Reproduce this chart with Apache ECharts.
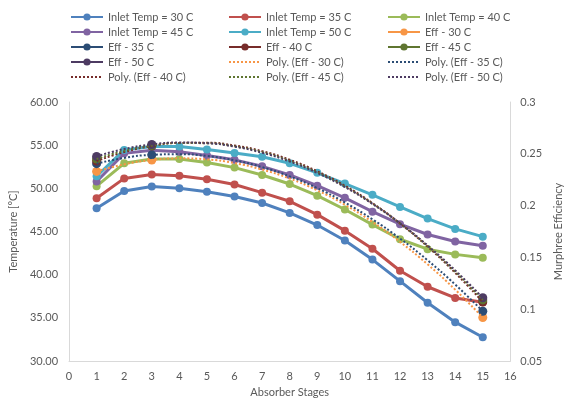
<!DOCTYPE html>
<html>
<head>
<meta charset="utf-8">
<script src="https://cdn.jsdelivr.net/npm/echarts@6/dist/echarts.min.js"></script>
<style>html,body{margin:0;padding:0;background:#fff}#c{width:572px;height:403px}</style>
</head>
<body>
<div id="c"></div>
<script>
// ---- data ----
const stages = [1,2,3,4,5,6,7,8,9,10,11,12,13,14,15];
const inlet30 = [47.7, 49.7, 50.2, 50.0, 49.6, 49.05, 48.3, 47.15, 45.75, 43.95, 41.75, 39.25, 36.75, 34.5, 32.75];
const inlet35 = [48.85, 51.15, 51.6, 51.45, 51.05, 50.45, 49.5, 48.5, 46.95, 45.1, 43.0, 40.45, 38.6, 37.3, 36.8];
const inlet40 = [50.25, 52.9, 53.4, 53.4, 53.0, 52.4, 51.55, 50.5, 49.15, 47.55, 45.8, 44.1, 42.95, 42.35, 41.95];
const inlet45 = [50.8, 54.05, 54.4, 54.25, 53.8, 53.3, 52.55, 51.55, 50.3, 48.9, 47.3, 45.85, 44.65, 43.85, 43.35];
const inlet50 = [51.4, 54.45, 54.85, 54.85, 54.5, 54.1, 53.65, 52.9, 51.8, 50.55, 49.25, 47.85, 46.5, 45.3, 44.4];

const effStages = [1, 3, 15];
const eff30 = [0.233, 0.244, 0.092];
const eff35 = [0.2405, 0.249, 0.098];
const eff40 = [0.243, 0.2575, 0.107];
const eff45 = [0.245, 0.258, 0.109];
const eff50 = [0.2475, 0.259, 0.111];

const poly30 = [0.233, 0.2398, 0.244, 0.2456, 0.2446, 0.2410, 0.2348, 0.2261, 0.2147, 0.2008, 0.1842, 0.1650, 0.1433, 0.1189, 0.092];
const poly35 = [0.2405, 0.2460, 0.249, 0.2496, 0.2479, 0.2437, 0.2371, 0.2282, 0.2168, 0.2030, 0.1868, 0.1682, 0.1472, 0.1238, 0.098];
const poly40 = [0.243, 0.2517, 0.2575, 0.2605, 0.2607, 0.2580, 0.2526, 0.2443, 0.2331, 0.2192, 0.2024, 0.1828, 0.1604, 0.1351, 0.107];
const poly45 = [0.245, 0.2529, 0.258, 0.2604, 0.2602, 0.2572, 0.2516, 0.2432, 0.2321, 0.2184, 0.2019, 0.1827, 0.1609, 0.1363, 0.109];
const poly50 = [0.2475, 0.2546, 0.259, 0.2609, 0.2602, 0.2569, 0.2510, 0.2426, 0.2315, 0.2179, 0.2017, 0.1829, 0.1615, 0.1375, 0.111];

const tempTicks = {min: 30, max: 60, interval: 5};
const effTicks = {min: 0.05, max: 0.3, interval: 0.05};
const stageTicks = {min: 0, max: 16, interval: 1};

// ---- styling ----
const C = {
  i30:'#4F81BD', i35:'#C0504D', i40:'#9BBB59', i45:'#8064A2', i50:'#4BACC6',
  e30:'#F79646', e35:'#2C4D75', e40:'#772C2A', e45:'#5F7530', e50:'#4D3B62'
};
const FONT = 'Lato, "Open Sans", sans-serif';
const GREY = '#595959';

function pairs(xs, ys){ return xs.map((x,i)=>[x, ys[i]]); }
function sparse(xs, sub, vals){ return xs.map(x => { const k = sub.indexOf(x); return [x, k>=0 ? vals[k] : '-']; }); }

function tempSeries(name, ys, color){
  return {name, type:'line', yAxisIndex:0, data:pairs(stages, ys), color,
    symbol:'circle', symbolSize:8, lineStyle:{width:3, color}, itemStyle:{color}, z:2};
}
function effSeries(name, ys, color){
  return {name, type:'line', yAxisIndex:1, data:sparse(stages, effStages, ys), color, connectNulls:false,
    symbol:'circle', symbolSize:9, lineStyle:{width:3, color}, itemStyle:{color}, z:3};
}
function polySeries(name, ys, color){
  return {name, type:'line', yAxisIndex:1, data:pairs(stages, ys), color, smooth:true,
    symbol:'none', lineStyle:{width:2, color, type:[2,2]}, itemStyle:{color, opacity:0}, z:4};
}

const series = [
  tempSeries('Inlet Temp = 30 C', inlet30, C.i30),
  tempSeries('Inlet Temp = 35 C', inlet35, C.i35),
  tempSeries('Inlet Temp = 40 C', inlet40, C.i40),
  tempSeries('Inlet Temp = 45 C', inlet45, C.i45),
  tempSeries('Inlet Temp = 50 C', inlet50, C.i50),
  effSeries('Eff - 30 C', eff30, C.e30),
  effSeries('Eff - 35 C', eff35, C.e35),
  effSeries('Eff - 40 C', eff40, C.e40),
  effSeries('Eff - 45 C', eff45, C.e45),
  effSeries('Eff - 50 C', eff50, C.e50),
  polySeries('Poly. (Eff - 30 C)', poly30, C.e30),
  polySeries('Poly. (Eff - 35 C)', poly35, C.e35),
  polySeries('Poly. (Eff - 40 C)', poly40, C.e40),
  polySeries('Poly. (Eff - 45 C)', poly45, C.e45),
  polySeries('Poly. (Eff - 50 C)', poly50, C.e50)
];

function legendCol(left, names){
  return {left, top:6, orient:'vertical', itemWidth:32, itemHeight:9, itemGap:3,
    textStyle:{fontFamily:FONT, fontSize:11, color:GREY, lineHeight:12},
    data:names.map(n => n.indexOf('Poly') === 0 ? {name:n, itemStyle:{opacity:0}} : n)};
}

const labelStyle = {fontFamily:FONT, fontSize:11, color:GREY};
const axisLine = {show:true, lineStyle:{color:'#D9D9D9', width:1}};

const option = {
  animation:false,
  backgroundColor:'#fff',
  legend:[
    legendCol(65, ['Inlet Temp = 30 C','Inlet Temp = 45 C','Eff - 35 C','Eff - 50 C','Poly. (Eff - 40 C)']),
    legendCol(223, ['Inlet Temp = 35 C','Inlet Temp = 50 C','Eff - 40 C','Poly. (Eff - 30 C)','Poly. (Eff - 45 C)']),
    legendCol(382, ['Inlet Temp = 40 C','Eff - 30 C','Eff - 45 C','Poly. (Eff - 35 C)','Poly. (Eff - 50 C)'])
  ],
  grid:{left:69, right:54, top:102, bottom:41, containLabel:false},
  xAxis:{type:'value', min:stageTicks.min, max:stageTicks.max, interval:stageTicks.interval,
    name:'Absorber Stages', nameLocation:'middle', nameGap:26,
    nameTextStyle:{fontFamily:FONT, fontSize:11, color:GREY},
    axisLine, axisTick:{show:false}, splitLine:{show:false},
    axisLabel:Object.assign({margin:10}, labelStyle)},
  yAxis:[
    {type:'value', position:'left', min:tempTicks.min, max:tempTicks.max, interval:tempTicks.interval,
      name:'Temperature [°C]', nameLocation:'middle', nameGap:38,
      nameTextStyle:{fontFamily:FONT, fontSize:11, color:GREY},
      axisLine, axisTick:{show:false}, splitLine:{show:false},
      axisLabel:Object.assign({margin:11, formatter:v=>v.toFixed(2)}, labelStyle)},
    {type:'value', position:'right', min:effTicks.min, max:effTicks.max, interval:effTicks.interval,
      name:'Murphree Efficiency', nameLocation:'middle', nameGap:38,
      nameTextStyle:{fontFamily:FONT, fontSize:11, color:GREY},
      axisLine, axisTick:{show:false}, splitLine:{show:false},
      axisLabel:Object.assign({margin:10, formatter:v=>String(+v.toFixed(2))}, labelStyle)}
  ],
  series
};

const chart = echarts.init(document.getElementById('c'), null, {renderer:'canvas'});
chart.setOption(option);
</script>
</body>
</html>
